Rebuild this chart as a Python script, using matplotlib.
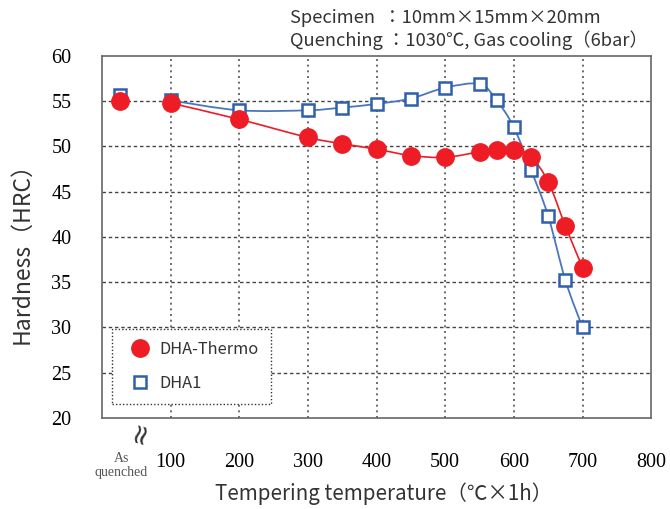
import matplotlib
matplotlib.use("Agg")
import matplotlib.pyplot as plt
from matplotlib.path import Path
from matplotlib.patches import PathPatch
from matplotlib.lines import Line2D

# As-quenched position on the x axis (left of the break)
aq_x = 26

temps = [100, 200, 300, 350, 400, 450, 500, 550, 575, 600, 625, 650, 675, 700]
thermo_aq = 55.0
thermo = [54.8, 53.0, 51.0, 50.3, 49.7, 49.0, 48.8, 49.4, 49.6, 49.6, 48.8, 46.1, 41.2, 36.6]
dha1_aq = 55.7
dha1 = [55.1, 54.0, 54.0, 54.3, 54.7, 55.3, 56.5, 56.9, 55.1, 52.1, 47.4, 42.3, 35.2, 30.0]

xticks = [100, 200, 300, 400, 500, 600, 700, 800]
yticks = [20, 25, 30, 35, 40, 45, 50, 55, 60]

sans = ['Noto Sans CJK JP', 'DejaVu Sans']
serif = ['Liberation Serif', 'DejaVu Serif']


def smooth_path(xs, ys):
    # Catmull-Rom style bezier through the points (like Excel smoothed lines)
    pts = list(zip(xs, ys))
    verts = [pts[0]]
    codes = [Path.MOVETO]
    n = len(pts)
    for i in range(n - 1):
        p0 = pts[i - 1] if i > 0 else pts[i]
        p1 = pts[i]
        p2 = pts[i + 1]
        p3 = pts[i + 2] if i + 2 < n else pts[i + 1]
        c1 = (p1[0] + (p2[0] - p0[0]) / 6, p1[1] + (p2[1] - p0[1]) / 6)
        c2 = (p2[0] - (p3[0] - p1[0]) / 6, p2[1] - (p3[1] - p1[1]) / 6)
        verts += [c1, c2, p2]
        codes += [Path.CURVE4] * 3
    return Path(verts, codes)


fig = plt.figure(figsize=(6.7, 5.09), dpi=100)
ax = fig.add_axes([0.152, 0.179, 0.820, 0.711])

red = '#ee1c25'
blue = '#2f5fad'

ax.add_patch(PathPatch(smooth_path(temps, dha1), fill=False, edgecolor='#4a76c0', lw=1.3, zorder=3))
ax.add_patch(PathPatch(smooth_path(temps, thermo), fill=False, edgecolor=red, lw=1.2, zorder=4))

ax.plot([aq_x] + temps, [dha1_aq] + dha1, ls='none', marker='s', ms=8.5, mfc='white',
        mec=blue, mew=1.8, zorder=5)
ax.plot([aq_x] + temps, [thermo_aq] + thermo, ls='none', marker='o', ms=12.5, mfc=red,
        mec=red, zorder=6)

ax.set_xlim(0, 800)
ax.set_ylim(20, 60)
ax.set_xticks([aq_x] + xticks)
ax.set_xticklabels([''] + [str(t) for t in xticks], family=serif, fontsize=14.5)
ax.set_yticks(yticks)
ax.set_yticklabels([str(t) for t in yticks], family=serif, fontsize=14.5)
ax.tick_params(axis='x', length=0, pad=25)
ax.tick_params(axis='y', length=0, pad=22)

for t in xticks[:-1]:
    ax.axvline(t, color='#555555', lw=1.2, ls=(0, (1.2, 2.2)), zorder=1)
for t in yticks[1:-1]:
    ax.axhline(t, color='#444444', lw=1.0, ls=(0, (2.5, 2.0)), zorder=1)

for s in ax.spines.values():
    s.set_color('#666666')
    s.set_linewidth(1.2)

ax.text(aq_x + 2, -0.095, 'As\nquenched', transform=ax.get_xaxis_transform(), ha='center',
        va='top', family=serif, fontsize=10, color='#555555', linespacing=1.1)
ax.text(56, -0.04, '≈', transform=ax.get_xaxis_transform(), ha='center', va='center',
        rotation=75, fontsize=20, color='#333333', clip_on=False)

ax.set_xlabel('Tempering temperature（℃×1h）', family=sans, fontsize=14.8, color='#333333')
ax.xaxis.set_label_coords(0.512, -0.178)
ax.set_ylabel('Hardness（HRC）', family=sans, fontsize=16.5, color='#333333')
ax.yaxis.set_label_coords(-0.125, 0.47)

fig.text(0.433, 0.964, 'Specimen  ：10mm×15mm×20mm', family=sans, fontsize=13.2,
         color='#333333', va='center')
fig.text(0.433, 0.921, 'Quenching ：1030℃, Gas cooling（6bar）', family=sans, fontsize=13.2,
         color='#333333', va='center')

handles = [
    Line2D([], [], ls='none', marker='o', ms=12.5, mfc=red, mec=red),
    Line2D([], [], ls='none', marker='s', ms=8.5, mfc='white', mec=blue, mew=1.8),
]
leg = ax.legend(handles, ['DHA-Thermo', 'DHA1'], loc='lower left',
                bbox_to_anchor=(0.018, 0.037), prop={'family': sans, 'size': 11.8},
                frameon=True, fancybox=False, borderpad=0.75, labelspacing=1.05,
                handletextpad=0.15, borderaxespad=0)
frame = leg.get_frame()
frame.set_edgecolor('#333333')
frame.set_linestyle((0, (1, 1.5)))
frame.set_linewidth(1.0)
frame.set_facecolor('white')
frame.set_alpha(1)
for text in leg.get_texts():
    text.set_color('#333333')

fig.savefig('out.png', dpi=100)
